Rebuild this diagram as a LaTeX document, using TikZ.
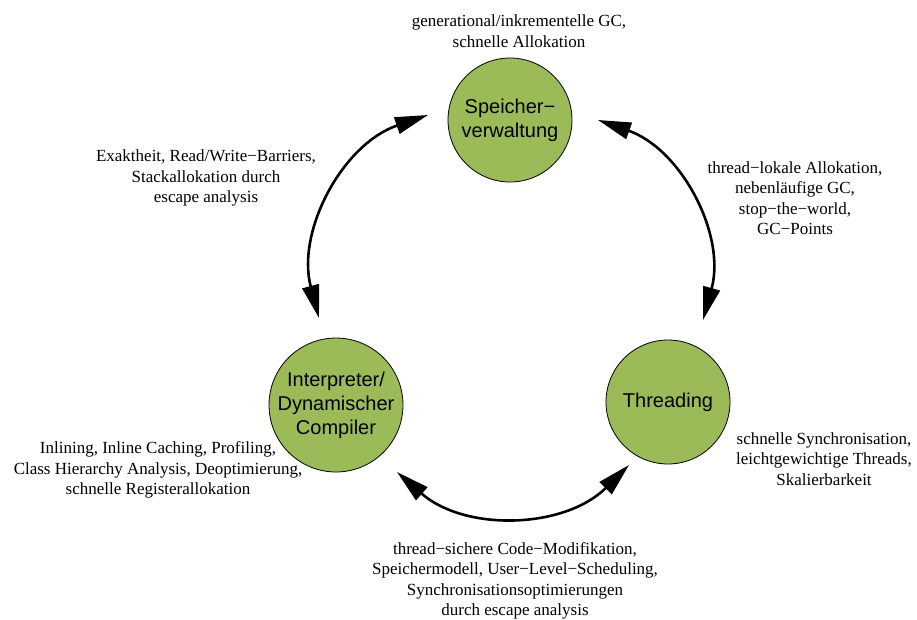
\documentclass[tikz,border=0pt]{standalone}
\usepackage{fontspec}
\setmainfont{Liberation Serif}
\newfontfamily\circfont{Liberation Sans}
\usetikzlibrary{arrows.meta}
\definecolor{nodegreen}{RGB}{155,187,89}
\tikzset{
  topic/.style={circle, draw=black, line width=0.8pt, fill=nodegreen,
    minimum size=124pt, inner sep=0pt, align=center,
    font=\circfont\fontsize{20}{24}\selectfont},
  note/.style={align=center, inner sep=0pt,
    font=\fontsize{17}{20.5}\selectfont},
  link/.style={line width=2.6pt, {Triangle[length=33pt,width=17pt]}-{Triangle[length=33pt,width=17pt]}}
}
\begin{document}
\begin{tikzpicture}[x=1pt,y=-1pt]
  \useasboundingbox (0,0) rectangle (917,619);

  % the three subsystems
  \node[topic] (mem) at (510,120) {Speicher−\\verwaltung};
  \node[topic] (thr) at (668,402) {Threading};
  \node[topic] (jit) at (336,405) {Interpreter/\\Dynamischer\\Compiler};

  % arrow tips of the interaction arcs
  \coordinate (lt) at (428,115);
  \coordinate (lb) at (319,318);
  \coordinate (rt) at (598,120);
  \coordinate (rb) at (703,320);
  \coordinate (bl) at (397,472);
  \coordinate (br) at (629,465);

  \draw[link] (lt) to[bend right=43] (lb);
  \draw[link] (rt) to[bend left=43] (rb);
  \draw[link] (bl) to[bend right=43] (br);

  % descriptions
  \node[note] (memnote) at (519,31) {generational/inkrementelle GC,\\schnelle Allokation};
  \node[note] (mjnote) at (206,178) {Exaktheit, Read/Write−Barriers,\\Stackallokation durch\\escape analysis};
  \node[note] (mtnote) at (795,198) {thread−lokale Allokation,\\nebenläufige GC,\\stop−the−world,\\GC−Points};
  \node[note] (jitnote) at (158,470) {Inlining, Inline Caching, Profiling,\\Class Hierarchy Analysis, Deoptimierung,\\schnelle Registerallokation};
  \node[note] (thrnote) at (824,459) {schnelle Synchronisation,\\leichtgewichtige Threads,\\Skalierbarkeit};
  \node[note] (jtnote) at (515,581) {thread−sichere Code−Modifikation,\\Speichermodell, User−Level−Scheduling,\\Synchronisationsoptimierungen\\durch escape analysis};
\end{tikzpicture}
\end{document}
